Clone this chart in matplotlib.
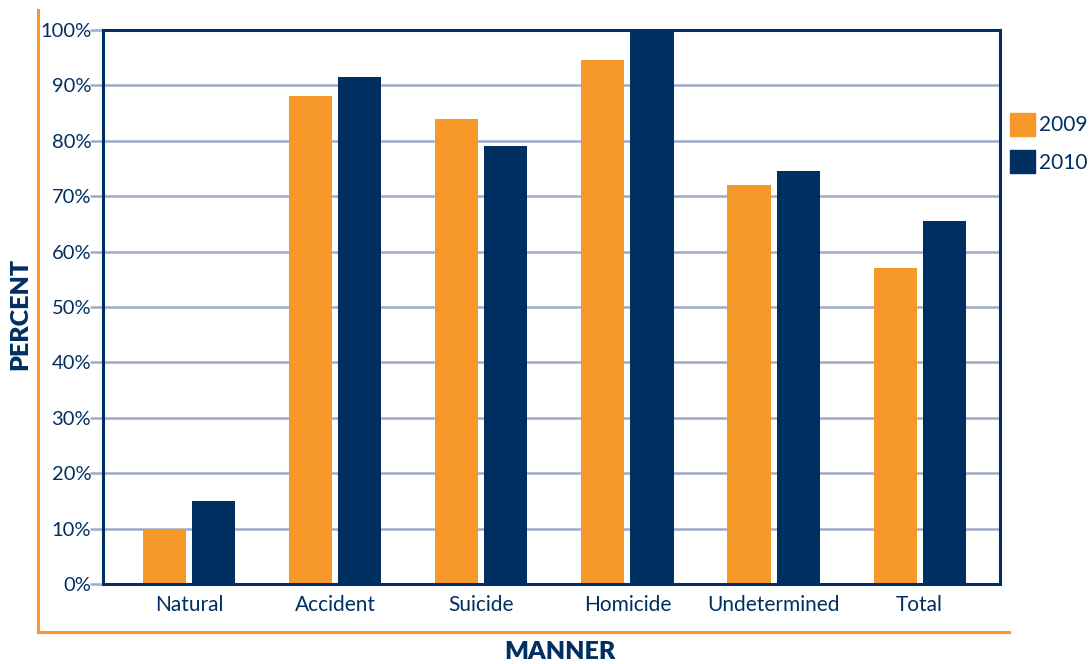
import matplotlib.pyplot as plt
import numpy as np
from matplotlib.lines import Line2D
from matplotlib.patches import Patch

# percent of cases by manner of death, two years
manners = ["Natural", "Accident", "Suicide", "Homicide", "Undetermined", "Total"]
pct_2009 = [10, 88, 84, 94.5, 72, 57]
pct_2010 = [15, 91.5, 79, 100, 74.5, 65.5]
years = ["2009", "2010"]
y_ticks = [0, 10, 20, 30, 40, 50, 60, 70, 80, 90, 100]

orange = "#f7982a"
navy = "#002f61"
grid_col = "#9eabc8"

plt.rcParams['font.family'] = ['Lato', 'DejaVu Sans']

fig = plt.figure(figsize=(10.9, 6.64), dpi=100)
ax = fig.add_axes([103 / 1090, 80 / 664, 897 / 1090, 554 / 664])

x = np.arange(len(manners))
w = 0.295
ax.bar(x - 0.168, pct_2009, width=w, color=orange, zorder=3)
ax.bar(x + 0.168, pct_2010, width=w, color=navy, zorder=3)

ax.set_xlim(-0.59, 5.55)
ax.set_ylim(0, 100)
ax.set_yticks(y_ticks)
ax.set_yticklabels([f"{t}%" for t in y_ticks])
ax.set_xticks(x)
ax.set_xticklabels(manners)

ax.yaxis.grid(True, color=grid_col, linewidth=1.8, zorder=0)
ax.tick_params(axis='y', length=9.5, width=1.8, color=grid_col, pad=-1,
               labelsize=14.5, labelcolor=navy)
ax.tick_params(axis='x', length=0, pad=8, labelsize=15, labelcolor=navy)

for s in ax.spines.values():
    s.set_color(navy)
    s.set_linewidth(2.2)
    s.set_zorder(4)

# orange frame on the left and bottom of the whole figure
fig.add_artist(Line2D([38 / 1090, 38 / 1090], [1 - 10 / 664, 1 - 632 / 664],
                      color=orange, linewidth=2.2, transform=fig.transFigure))
fig.add_artist(Line2D([38 / 1090, 1009 / 1090], [1 - 632 / 664, 1 - 632 / 664],
                      color=orange, linewidth=2.2, transform=fig.transFigure))

fig.text(20 / 1090, 1 - 314 / 664, "PERCENT", rotation=90, ha='center', va='center',
         fontsize=18, fontweight='heavy', color=navy)
fig.text(560 / 1090, 1 - 652 / 664, "MANNER", ha='center', va='center',
         fontsize=18, fontweight='heavy', color=navy)

handles = [Patch(color=orange), Patch(color=navy)]
fig.legend(handles, years, loc='upper left', bbox_to_anchor=(1010 / 1090, 1 - 113 / 664),
           frameon=False, fontsize=15, labelcolor=navy, handlelength=1.2,
           handleheight=1.3, handletextpad=0.2, labelspacing=0.7, borderpad=0,
           borderaxespad=0)

fig.savefig("out.png", dpi=100)
